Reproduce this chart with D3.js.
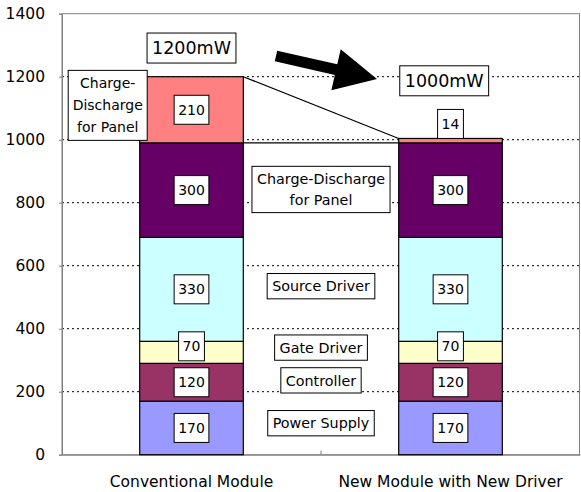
<!DOCTYPE html>
<html>
<head>
<meta charset="utf-8">
<script src="https://cdn.jsdelivr.net/npm/d3@7"></script>
<style>
  body { margin: 0; background: #fff; }
  svg { display: block; font-family: "DejaVu Sans", sans-serif; }
</style>
</head>
<body>
<svg width="581" height="492"></svg>
<script>
const categories = ["Conventional Module", "New Module with New Driver"];
const seriesNames = ["Power Supply", "Controller", "Gate Driver", "Source Driver", "Charge-Discharge for Panel", "Charge-Discharge for Panel (top)"];
const conventional = [170, 120, 70, 330, 300, 210];
const newDriver = [170, 120, 70, 330, 300, 14];
const totals = ["1200mW", "1000mW"];
const yTicks = [0, 200, 400, 600, 800, 1000, 1200, 1400];
const colors = ["#9999FF", "#993366", "#FFFFCC", "#CCFFFF", "#660066", "#FF8080"];

const margin = { left: 62, right: 1, top: 13.7, bottom: 37.3 };
const W = 581, H = 492;
const svg = d3.select("svg");

const x = d3.scaleBand().domain(categories)
  .range([margin.left, W - margin.right])
  .paddingInner(0.6).paddingOuter(0.3);
const y = d3.scaleLinear().domain([0, 1400]).range([H - margin.bottom, margin.top]);

// stacked rows
const rows = categories.map((c, i) => {
  const vals = i === 0 ? conventional : newDriver;
  const row = { cat: c };
  seriesNames.forEach((s, j) => row[s] = vals[j]);
  return row;
});
const stacked = d3.stack().keys(seriesNames)(rows);

// gridlines
svg.append("g").selectAll("line")
  .data(yTicks.filter(t => t > 0 && t < 1400))
  .join("line")
  .attr("x1", margin.left).attr("x2", W - margin.right)
  .attr("y1", d => y(d)).attr("y2", d => y(d))
  .attr("stroke", "#000").attr("stroke-width", 1)
  .attr("stroke-dasharray", "2,3");

// plot frame
svg.append("rect")
  .attr("x", margin.left).attr("y", y(1400))
  .attr("width", W - margin.right - margin.left - 0.5)
  .attr("height", y(0) - y(1400))
  .attr("fill", "none").attr("stroke", "#808080").attr("stroke-width", 1);

// y axis
const yAxis = svg.append("g")
  .attr("transform", `translate(${margin.left},0)`)
  .call(d3.axisLeft(y).tickValues(yTicks).tickFormat(d3.format("d")).tickSize(3).tickPadding(14));
yAxis.select(".domain").attr("stroke", "#808080");
yAxis.selectAll(".tick line").attr("stroke", "#808080");
yAxis.selectAll("text").attr("font-size", 15.5).attr("fill", "#000")
  .attr("font-family", "DejaVu Sans");

// x axis
const xAxis = svg.append("g")
  .attr("transform", `translate(0,${y(0)})`)
  .call(d3.axisBottom(x).tickSize(0).tickPadding(21));
xAxis.select(".domain").attr("stroke", "#808080");
xAxis.selectAll("text").attr("font-size", 15.5).attr("fill", "#000")
  .attr("font-family", "DejaVu Sans");
svg.append("line")
  .attr("x1", (x(categories[0]) + x(categories[1]) + x.bandwidth()) / 2)
  .attr("x2", (x(categories[0]) + x(categories[1]) + x.bandwidth()) / 2)
  .attr("y1", y(0)).attr("y2", y(0) - 4)
  .attr("stroke", "#808080");

// bars
svg.append("g").selectAll("g")
  .data(stacked)
  .join("g")
  .attr("fill", (d, i) => colors[i])
  .selectAll("rect")
  .data(d => d)
  .join("rect")
  .attr("x", d => x(d.data.cat))
  .attr("y", d => y(d[1]))
  .attr("width", x.bandwidth())
  .attr("height", d => y(d[0]) - y(d[1]))
  .attr("stroke", "#000").attr("stroke-width", 1.2);

// series lines for the top two segments
const c0 = categories[0], c1 = categories[1];
[4, 5].forEach(k => {
  svg.append("line")
    .attr("x1", x(c0) + x.bandwidth()).attr("y1", y(stacked[k][0][1]))
    .attr("x2", x(c1)).attr("y2", y(stacked[k][1][1]))
    .attr("stroke", "#000").attr("stroke-width", 1.2);
});

// helper: boxed text
function boxText(cx, cy, lines, opts) {
  const g = svg.append("g");
  const fs = opts.size, lh = opts.lineHeight || fs * 1.5;
  const rect = g.append("rect").attr("fill", "#fff").attr("stroke", "#000").attr("stroke-width", 1);
  const texts = lines.map((t, i) => g.append("text")
    .attr("x", cx)
    .attr("y", cy + (i - (lines.length - 1) / 2) * lh)
    .attr("dy", "0.36em")
    .attr("text-anchor", "middle")
    .attr("font-size", fs)
    .text(t));
  const w = opts.width || d3.max(texts, t => t.node().getComputedTextLength()) + 2 * opts.padX;
  const h = opts.height || (lines.length - 1) * lh + opts.padY * 2 + fs;
  rect.attr("x", cx - w / 2).attr("y", cy - h / 2).attr("width", w).attr("height", h);
  return g;
}

// value labels
stacked.forEach(layer => {
  layer.forEach(d => {
    const v = d[1] - d[0];
    const cx = x(d.data.cat) + x.bandwidth() / 2;
    const segH = y(d[0]) - y(d[1]);
    let cy = (y(d[0]) + y(d[1])) / 2;
    if (segH < 10) cy = y(d[1]) - 14.5;
    else if (segH < 29) cy -= 6;
    boxText(cx, cy, [String(v)], { size: 14, padX: 4, height: 29 });
  });
});

// category annotations between bars
const midX = (x(c0) + x(c1) + x.bandwidth()) / 2;
const midLabels = [
  { lines: ["Power Supply"], at: 100 },
  { lines: ["Controller"], at: 236 },
  { lines: ["Gate Driver"], at: 340 },
  { lines: ["Source Driver"], at: 535 },
  { lines: ["Charge-Discharge", "for Panel"], at: 842 }
];
midLabels.forEach(l => boxText(midX, y(l.at), l.lines, { size: 14.3, padX: 5, padY: 5.5, lineHeight: 21 }));

// left annotation for the top segment
boxText(x(c0) - 32, y(1109), ["Charge-", "Discharge", "for Panel"], { size: 14, padX: 7, padY: 6, lineHeight: 22, width: 79 });

// totals
boxText(x(c0) + x.bandwidth() / 2, y(1291), [totals[0]], { size: 17.5, padX: 5, height: 30 });
boxText(x(c1) + 45.5, y(1187), [totals[1]], { size: 17.5, padX: 5, height: 30 });

// big arrow
const tail = [276, 56], tip = [377, 79];
const len = Math.hypot(tip[0] - tail[0], tip[1] - tail[1]);
const ang = Math.atan2(tip[1] - tail[1], tip[0] - tail[0]) * 180 / Math.PI;
const sw = 5.5, hw = 21, hl = 42;
svg.append("path")
  .attr("transform", `translate(${tail[0]},${tail[1]}) rotate(${ang})`)
  .attr("d", `M0,${-sw}L${len - hl},${-sw}L${len - hl},${-hw}L${len},0L${len - hl},${hw}L${len - hl},${sw}L0,${sw}Z`)
  .attr("fill", "#000");
</script>
</body>
</html>
